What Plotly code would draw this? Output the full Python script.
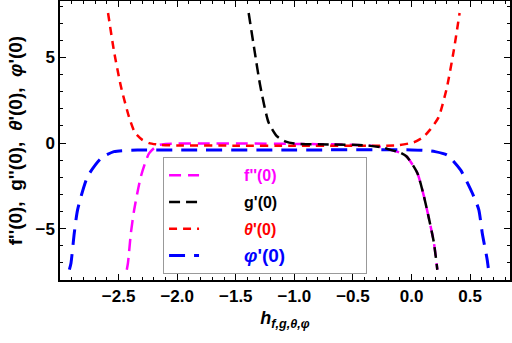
import plotly.graph_objects as go

# f''(0) (magenta)
f_x = [-2.43, -2.42, -2.395, -2.367, -2.31, -2.24, -2.17, -2.10, -1.8, -1.4, -1.0, -0.6, -0.35, -0.25,
       -0.18, -0.10, -0.04, 0.05, 0.105, 0.148, 0.19, 0.22]
f_y = [-7.4, -7.0, -5.25, -3.9, -1.96, -0.6, -0.15, -0.05, -0.03, -0.03, -0.05, -0.08, -0.15, -0.25,
       -0.4, -0.55, -0.8, -1.76, -3.1, -4.4, -5.8, -7.4]

# g'(0) (black)
g_x = [-1.39, -1.34, -1.29, -1.22, -1.15, -1.08, -1.0, -0.7, -0.4, -0.25, -0.18, -0.10, -0.04,
       0.05, 0.105, 0.148, 0.19, 0.22]
g_y = [7.6, 5.4, 3.3, 1.2, 0.4, 0.1, -0.03, -0.08, -0.13, -0.25, -0.4, -0.55, -0.8,
       -1.76, -3.1, -4.4, -5.8, -7.4]

# theta'(0) (red)
t_x = [-2.59, -2.54, -2.48, -2.41, -2.36, -2.30, -2.24, -2.15, -2.0, -1.5, -1.0, -0.5, -0.12,
       0.02, 0.10, 0.16, 0.23, 0.30, 0.36, 0.41]
t_y = [7.6, 5.4, 3.3, 1.5, 0.6, 0.2, 0.0, -0.1, -0.14, -0.15, -0.15, -0.15, -0.13,
       0.05, 0.35, 0.8, 1.5, 3.2, 5.4, 7.6]

# phi'(0) (blue)
p_x = [-2.92, -2.906, -2.878, -2.85, -2.765, -2.65, -2.54, -2.34, -2.0, -1.0, 0.0, 0.1, 0.2,
       0.304, 0.418, 0.531, 0.574, 0.603, 0.645, 0.655]
p_y = [-7.4, -7.0, -5.25, -3.9, -1.96, -0.89, -0.5, -0.41, -0.4, -0.4, -0.4, -0.42, -0.5,
       -0.7, -1.57, -3.12, -3.9, -5.25, -6.8, -7.3]

x_ticks = [-2.5, -2.0, -1.5, -1.0, -0.5, 0.0, 0.5]
y_ticks = [-5, 0, 5]

NB = "\u00a0"
pad_l = NB * 9
pad_r = NB * 19

fig = go.Figure()
fig.add_trace(go.Scatter(
    x=f_x, y=f_y, mode="lines", legendrank=1, legendgroup="f",
    line=dict(color="#ff00ff", width=2.5, dash="12px,7px", shape="spline", smoothing=0.6),
    name=pad_l + '<span style="color:#ff00ff">f\'\'(0)</span>' + pad_r))
fig.add_trace(go.Scatter(
    x=p_x, y=p_y, mode="lines", legendrank=4, legendgroup="p",
    line=dict(color="#0000ff", width=3, dash="16px,9px", shape="spline", smoothing=0.6),
    name=pad_l + '<span style="color:#0000ff;font-size:19px"><i>φ</i>\'(0)</span>'))
fig.add_trace(go.Scatter(
    x=t_x, y=t_y, mode="lines", legendrank=3, legendgroup="t",
    line=dict(color="#ff0000", width=2.5, dash="8px,6px", shape="spline", smoothing=0.6),
    name=pad_l + '<span style="color:#ff0000"><i>θ</i>\'(0)</span>'))
fig.add_trace(go.Scatter(
    x=g_x, y=g_y, mode="lines", legendrank=2, legendgroup="g",
    line=dict(color="#000000", width=2.5, dash="11px,6px", shape="spline", smoothing=0.6),
    name=pad_l + 'g\'(0)'))

axis_common = dict(
    showline=True, linecolor="black", linewidth=1.5, mirror="allticks",
    ticks="inside", ticklen=6, tickwidth=1, tickcolor="black",
    showgrid=False, zeroline=False, automargin=False,
    tickfont=dict(family="Liberation Sans, Arial", size=17, color="black", weight="bold"),
)

fig.update_xaxes(
    range=[-3.0, 0.84], tickvals=x_ticks, ticktext=[f"{v:.1f}".replace("-", "\u2212") for v in x_ticks],
    minor=dict(ticks="inside", ticklen=3.5, dtick=0.1, tick0=0, tickcolor="black", showgrid=False),
    title=dict(text="<b><i>h</i><sub><i>f,g,θ,φ</i></sub></b>", standoff=6,
               font=dict(family="Liberation Sans, Arial", size=18, color="black")),
    **axis_common)
fig.update_yaxes(
    range=[-8.0, 8.3], tickvals=y_ticks, ticktext=["\u22125", "0", "5"],
    minor=dict(ticks="inside", ticklen=3.5, dtick=1, tick0=0, tickcolor="black", showgrid=False),
    title=dict(text="<b>f''(0),  g''(0),  <i>θ</i>'(0),  <i>φ</i>'(0)</b>", standoff=8,
               font=dict(family="Liberation Sans, Arial", size=19, color="black")),
    **axis_common)

fig.update_layout(
    width=512, height=343,
    margin=dict(l=60, r=2, t=1, b=63),
    paper_bgcolor="white", plot_bgcolor="white",
    font=dict(family="Liberation Sans, Arial", color="black"),
    legend=dict(
        x=0.229, y=0.44, xanchor="left", yanchor="top",
        bgcolor="white", bordercolor="#999999", borderwidth=1,
        font=dict(family="Liberation Sans, Arial", size=16, color="black", weight="bold"),
        tracegroupgap=3, itemwidth=30,
    ),
    showlegend=True,
)

fig.write_html("out.html", config={"displayModeBar": False},
               post_script="document.body.style.margin='0';")
